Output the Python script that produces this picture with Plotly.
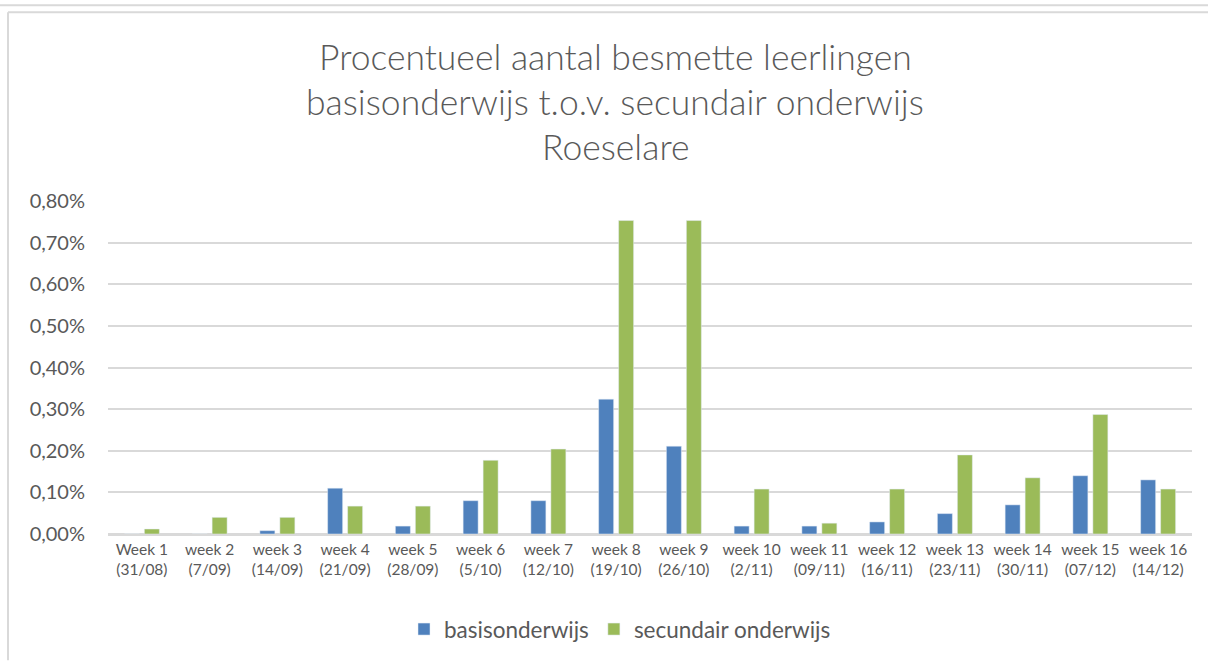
import plotly.graph_objects as go

weeks = ["Week 1<br>(31/08)", "week 2<br>(7/09)", "week 3<br>(14/09)", "week 4<br>(21/09)",
         "week 5<br>(28/09)", "week 6<br>(5/10)", "week 7<br>(12/10)", "week 8<br>(19/10)",
         "week 9<br>(26/10)", "week 10<br>(2/11)", "week 11<br>(09/11)", "week 12<br>(16/11)",
         "week 13<br>(23/11)", "week 14<br>(30/11)", "week 15<br>(07/12)", "week 16<br>(14/12)"]
basis = [0.0, 0.0, 0.008, 0.11, 0.019, 0.08, 0.08, 0.324, 0.211, 0.019, 0.019, 0.029, 0.049, 0.07, 0.14, 0.13]
secundair = [0.012, 0.04, 0.04, 0.067, 0.067, 0.177, 0.204, 0.753, 0.753, 0.108, 0.026, 0.108, 0.19, 0.135, 0.287, 0.108]
y_ticks = [0, 0.1, 0.2, 0.3, 0.4, 0.5, 0.6, 0.7, 0.8]
y_ticktext = [f"{v:.2f}%".replace(".", ",") for v in y_ticks]
title_lines = ["Procentueel aantal besmette leerlingen",
               "basisonderwijs t.o.v. secundair onderwijs",
               "Roeselare"]

FONT = "Lato"
TXT = "#595959"
GRID = "#d9d9d9"

W, H = 1208, 663
L, R, T, B = 108, 16, 201, 127
pw, ph = W - L - R, H - T - B

def px(x):
    return (x - L) / pw

def py(y):
    return (H - B - y) / ph

fig = go.Figure()
fig.add_trace(go.Bar(x=weeks, y=basis, name="basisonderwijs", marker_color="#4F81BD"))
fig.add_trace(go.Bar(x=weeks, y=secundair, name="secundair onderwijs", marker_color="#9BBB59"))

annotations = []
for i, line in enumerate(title_lines):
    annotations.append(dict(text=line, xref="paper", yref="paper", x=px(615), y=py(56 + 45 * i),
                            xanchor="center", yanchor="middle", showarrow=False,
                            font=dict(family=FONT, size=35.5, color=TXT, weight=300)))

shapes = [
    dict(type="line", xref="paper", yref="paper", x0=px(0), x1=px(W), y0=py(4), y1=py(4),
         line=dict(color=GRID, width=2)),
    dict(type="line", xref="paper", yref="paper", x0=px(8), x1=px(W), y0=py(11), y1=py(11),
         line=dict(color=GRID, width=2)),
    dict(type="line", xref="paper", yref="paper", x0=px(8), x1=px(8), y0=py(11), y1=py(H),
         line=dict(color=GRID, width=2)),
]

fig.update_layout(
    width=W, height=H,
    margin=dict(l=L, r=R, t=T, b=B),
    paper_bgcolor="white", plot_bgcolor="white",
    barmode="group", bargap=0.41, bargroupgap=0.25,
    font=dict(family=FONT, color=TXT),
    annotations=annotations, shapes=shapes,
    legend=dict(orientation="h", x=px(620), y=py(632), xanchor="center", yanchor="middle",
                font=dict(family=FONT, size=22.5, color=TXT), itemwidth=30),
    showlegend=True,
)
fig.update_xaxes(tickfont=dict(family=FONT, size=15.5, color=TXT), showline=True,
                 linecolor=GRID, linewidth=2, ticks="", showgrid=False)
fig.update_yaxes(range=[0, 0.8], tickvals=y_ticks, ticktext=y_ticktext,
                 tickfont=dict(family=FONT, size=20, color=TXT), showgrid=True,
                 gridcolor=GRID, gridwidth=2, zeroline=True, zerolinecolor=GRID,
                 zerolinewidth=2, ticklabelstandoff=22)

fig.write_html("out.html", config={"displayModeBar": False},
               post_script="document.body.style.margin='0';document.body.style.overflow='hidden';"
                           "document.documentElement.style.overflow='hidden';")
